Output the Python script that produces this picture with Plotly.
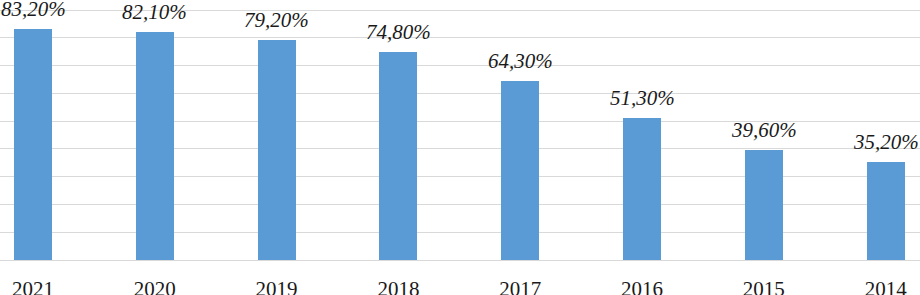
import plotly.graph_objects as go

years = ["2021", "2020", "2019", "2018", "2017", "2016", "2015", "2014"]
values = [83.2, 82.1, 79.2, 74.8, 64.3, 51.3, 39.6, 35.2]
labels = ["83,20%", "82,10%", "79,20%", "74,80%", "64,30%", "51,30%", "39,60%", "35,20%"]

font_family = "'Times New Roman', 'Liberation Serif', 'DejaVu Serif', 'Noto Serif', Tinos, serif"

fig = go.Figure()
fig.add_trace(go.Bar(
    x=list(range(len(years))),
    y=values,
    width=0.312,
    marker=dict(color="#5B9BD5", line=dict(width=0)),
    hoverinfo="skip",
))

for i, (v, lab) in enumerate(zip(values, labels)):
    fig.add_annotation(
        x=i, y=v, text=f"<i>{lab}</i>", showarrow=False,
        yanchor="middle", xanchor="center", yshift=20,
        font=dict(family=font_family, size=21, color="#1a1a1a"),
    )

fig.update_layout(
    width=920, height=295,
    margin=dict(l=0, r=0, t=0, b=35),
    paper_bgcolor="white", plot_bgcolor="white",
    showlegend=False,
    bargap=0,
    font=dict(family=font_family),
    xaxis=dict(
        range=[-0.271, 7.282],
        tickmode="array",
        tickvals=list(range(len(years))),
        ticktext=years,
        showgrid=False, zeroline=False, showline=False,
        ticks="", ticklabelstandoff=14, automargin=False,
        tickfont=dict(family=font_family, size=21, color="#1a1a1a"),
    ),
    yaxis=dict(
        range=[0, 93.6],
        tick0=0, dtick=10, automargin=False,
        showgrid=True, gridcolor="#D9D9D9", gridwidth=1.3,
        zeroline=True, zerolinecolor="#D9D9D9", zerolinewidth=1.3,
        showticklabels=False, ticks="", showline=False,
    ),
)

fig.write_html("out.html", config={"displayModeBar": False},
               post_script="document.body.style.margin='0';")
